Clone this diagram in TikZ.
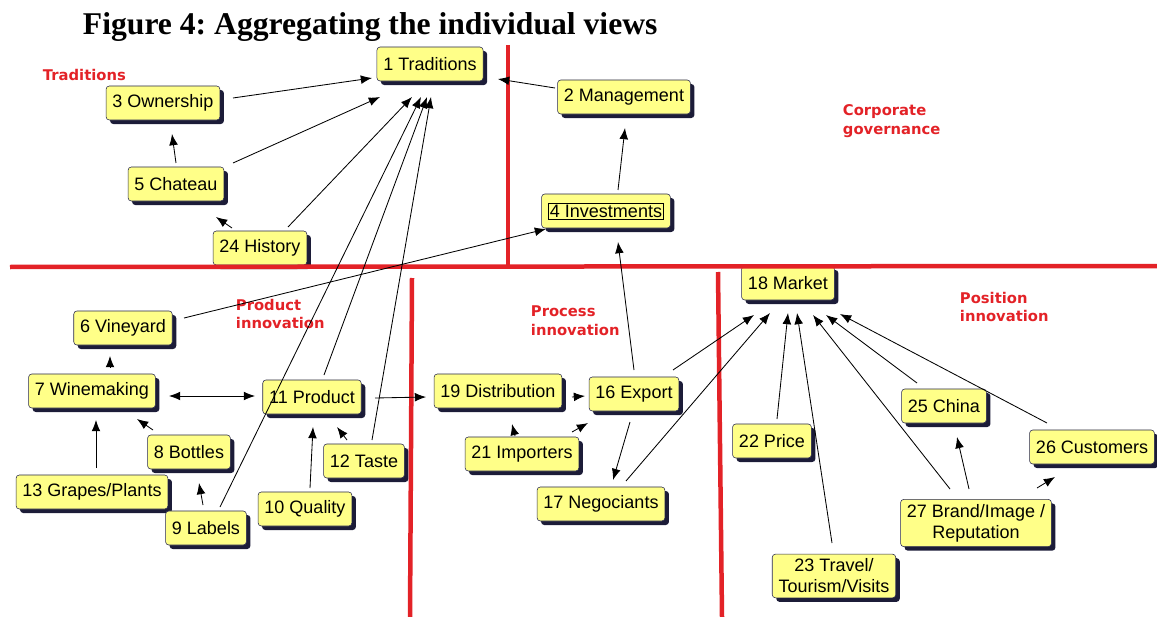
\documentclass[tikz,border=0pt]{standalone}
\usepackage{fontspec}
\setmainfont{Liberation Sans}
\newfontfamily\titlefont{Liberation Serif}
\newfontfamily\tagfont{DejaVu Sans}
\usetikzlibrary{calc, shadows, arrows.meta}
\definecolor{boxyellow}{RGB}{255,255,136}
\definecolor{boxline}{RGB}{40,40,80}
\definecolor{boxshadow}{RGB}{28,28,56}
\definecolor{areared}{RGB}{227,34,39}
\setlength{\fboxsep}{1pt}
\frenchspacing

\begin{document}
\begin{tikzpicture}[x=0.025cm, y=-0.025cm, >={Latex[length=2.8mm,width=2.2mm]},
        place/.style={draw=boxline, fill=boxyellow, rounded corners=0.8mm, inner xsep=1.6mm,
            minimum height=8.5mm, align=center, font=\fontsize{12.8}{15}\selectfont,
            drop shadow={shadow xshift=1mm, shadow yshift=-1mm, fill=boxshadow, opacity=1}},
        area/.style={anchor=west, align=left, text=areared,
            font=\tagfont\bfseries\fontsize{10.5}{13.5}\selectfont},
        border/.style={draw=areared, line width=3.2pt},
        arr/.style={->, line width=0.6pt}]

        \useasboundingbox (0,0) rectangle (1157,617);

        \node[anchor=west, font=\titlefont\bfseries\fontsize{22.5}{26}\selectfont] (title) at (78,27)
            {Figure 4: Aggregating the individual views};

        % traditions and corporate governance
        \node[place] (m1)  at (430,64)  {1 Traditions};
        \node[place] (m2)  at (624,97)  {2 Management};
        \node[place] (m3)  at (163,103) {3 Ownership};
        \node[place] (m4)  at (606,211) {\fbox{4 Investments}};
        \node[place] (m5)  at (176,184) {5 Chateau};
        \node[place] (m24) at (260,248) {24 History};

        % product innovation
        \node[place] (m6)  at (123,328) {6 Vineyard};
        \node[place] (m7)  at (92,391)  {7 Winemaking};
        \node[place] (m11) at (312,397) {11 Product};
        \node[place] (m8)  at (189,452) {8 Bottles};
        \node[place] (m12) at (364,461) {12 Taste};
        \node[place] (m13) at (92,492)  {13 Grapes/Plants};
        \node[place] (m9)  at (206,528) {9 Labels};
        \node[place] (m10) at (305,509) {10 Quality};

        % process innovation
        \node[place] (m19) at (498,391) {19 Distribution};
        \node[place] (m16) at (634,394) {16 Export};
        \node[place] (m21) at (522,454) {21 Importers};
        \node[place] (m17) at (601,504) {17 Negociants};

        % position innovation
        \node[place] (m18) at (788,283) {18 Market};
        \node[place] (m22) at (772,441) {22 Price};
        \node[place] (m25) at (944,406) {25 China};
        \node[place] (m26) at (1092,447) {26 Customers};
        \node[place] (m27) at (976,523) {27 Brand/Image /\\Reputation};
        \node[place] (m23) at (834,576) {23 Travel/\\Tourism/Visits};

        % red borders of the areas
        \draw[border] (10,267) -- (1157,266);
        \draw[border] (508,45) -- (508,267);
        \draw[border] (412,278) -- (410,617);
        \draw[border] (718,272) -- (722,617);

        \node[area] (a1) at (38,75)  {Traditions};
        \node[area] (a2) at (838,121) {Corporate\\governance};
        \node[area] (a3) at (231,314) {Product\\innovation};
        \node[area] (a4) at (526,321) {Process\\innovation};
        \node[area] (a5) at (955,307) {Position\\innovation};

        \path[arr]
                  ($(m3)+(70,-5)$)    edge ($(m1)+(-58,14)$)
                  ($(m5)+(57,-21)$)   edge ($(m1)+(-50,33)$)
                  ($(m5)+(0,-21)$)    edge ($(m3)+(9,31)$)
                  ($(m24)+(-28,-20)$) edge ($(m5)+(40,33)$)
                  ($(m24)+(28,-21)$)  edge ($(m1)+(-18,33)$)
                  ($(m9)+(14,-21)$)   edge ($(m1)+(-9,33)$)
                  ($(m11)+(12,-22)$)  edge ($(m1)+(-3,33)$)
                  ($(m12)+(8,-21)$)   edge ($(m1)+(1,33)$)
                  ($(m2)+(-69,-9)$)   edge ($(m1)+(68,15)$)
                  ($(m4)+(12,-21)$)   edge ($(m2)+(1,31)$)
                  ($(m6)+(61,-10)$)   edge ($(m4)+(-60,18)$)
                  ($(m16)+(0,-24)$)   edge ($(m4)+(12,31)$)

                  ($(m7)+(18,-24)$)   edge ($(m6)+(-13,28)$)
                  ($(m7)+(77,5)$)     edge [<->] ($(m11)+(-57,-1)$)
                  ($(m13)+(4,-24)$)   edge ($(m7)+(4,29)$)
                  ($(m8)+(-36,-22)$)  edge ($(m7)+(45,28)$)
                  ($(m9)+(-3,-23)$)   edge ($(m8)+(10,31)$)
                  ($(m10)+(5,-21)$)   edge ($(m11)+(1,30)$)
                  ($(m12)+(-17,-21)$) edge ($(m11)+(25,30)$)
                  ($(m11)+(63,1)$)    edge ($(m19)+(-72,6)$)

                  ($(m19)+(74,6)$)    edge ($(m16)+(-49,2)$)
                  ($(m21)+(-7,-18)$)  edge ($(m19)+(14,33)$)
                  ($(m21)+(50,-22)$)  edge ($(m16)+(-46,29)$)
                  ($(m16)+(-4,28)$)   edge ($(m17)+(12,-24)$)
                  ($(m16)+(39,-24)$)  edge ($(m18)+(-34,32)$)
                  ($(m17)+(25,-23)$)  edge ($(m18)+(-18,30)$)

                  ($(m22)+(5,-22)$)   edge ($(m18)+(0,30)$)
                  ($(m23)+(-2,-33)$)  edge ($(m18)+(9,30)$)
                  ($(m27)+(-26,-34)$) edge ($(m18)+(25,32)$)
                  ($(m25)+(-27,-23)$) edge ($(m18)+(38,32)$)
                  ($(m26)+(-45,-24)$) edge ($(m18)+(52,31)$)
                  ($(m27)+(-7,-34)$)  edge ($(m25)+(13,31)$)
                  ($(m27)+(61,-35)$)  edge ($(m26)+(-37,30)$);
    \end{tikzpicture}
\end{document}
